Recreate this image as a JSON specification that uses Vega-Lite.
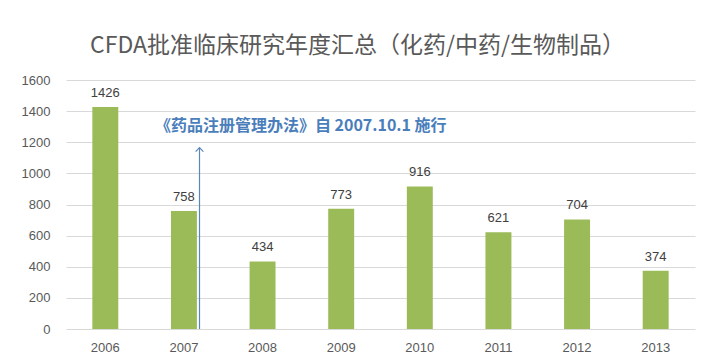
{
  "$schema": "https://vega.github.io/schema/vega-lite/v6.json",
  "width": 629,
  "height": 249,
  "autosize": "none",
  "padding": {"left": 66, "top": 80, "right": 14, "bottom": 29},
  "background": "white",
  "config": {
    "view": {"stroke": null},
    "font": "Noto Sans CJK SC",
    "axisY": {"format": "d", "labelOverlap": false, "ticks": false, "domain": false, "gridColor": "#d9d9d9", "labelFontSize": 13, "labelColor": "#595959", "labelPadding": 16, "labelFont": "Liberation Sans", "title": null},
    "axisX": {"title": null, "labelAngle": 0, "ticks": false, "domain": false, "labelFontSize": 13, "labelColor": "#595959", "labelPadding": 12, "labelFont": "Liberation Sans"}
  },
  "title": {
    "text": "CFDA批准临床研究年度汇总（化药/中药/生物制品）",
    "fontSize": 23,
    "fontWeight": "normal",
    "color": "#595959",
    "font": "Noto Sans CJK SC",
    "anchor": "middle",
    "offset": 16,
    "dx": -23
  },
  "datasets": {
    "bars": [
      {"year": "2006", "count": 1426},
      {"year": "2007", "count": 758},
      {"year": "2008", "count": 434},
      {"year": "2009", "count": 773},
      {"year": "2010", "count": 916},
      {"year": "2011", "count": 621},
      {"year": "2012", "count": 704},
      {"year": "2013", "count": 374}
    ],
    "arrow": [{"year": "2007", "y0": 0, "y1": 1165}],
    "note": [{"year": "2007", "y": 1305, "label": "《药品注册管理办法》自 2007.10.1 施行"}]
  },
  "layer": [
    {
      "data": {"name": "bars"},
      "mark": {"type": "bar", "color": "#9bbb59"},
      "encoding": {
        "x": {
          "field": "year", "type": "ordinal",
          "scale": {"paddingInner": 0.67, "paddingOuter": 0.335}
        },
        "y": {
          "field": "count", "type": "quantitative",
          "scale": {"domain": [0, 1600]},
          "axis": {"values": [0, 200, 400, 600, 800, 1000, 1200, 1400, 1600], "tickCount": 12}
        }
      }
    },
    {
      "data": {"name": "bars"},
      "mark": {"type": "text", "baseline": "bottom", "dy": -7, "fontSize": 13, "color": "#404040", "font": "Liberation Sans"},
      "encoding": {
        "x": {"field": "year", "type": "ordinal"},
        "y": {"field": "count", "type": "quantitative"},
        "text": {"field": "count", "type": "quantitative"}
      }
    },
    {
      "data": {"name": "arrow"},
      "mark": {"type": "rule", "color": "#5a86b8", "strokeWidth": 1.2},
      "encoding": {
        "x": {"field": "year", "type": "ordinal", "bandPosition": 1.1},
        "y": {"field": "y0", "type": "quantitative"},
        "y2": {"field": "y1"}
      }
    },
    {
      "data": {"name": "arrow"},
      "mark": {"type": "point", "shape": "M-1,1L0,0L1,1", "filled": false, "stroke": "#5a86b8", "strokeWidth": 1.2, "size": 60, "opacity": 1},
      "encoding": {
        "x": {"field": "year", "type": "ordinal", "bandPosition": 1.1},
        "y": {"field": "y1", "type": "quantitative"}
      }
    },
    {
      "data": {"name": "note"},
      "mark": {"type": "text", "align": "left", "baseline": "middle", "fontSize": 16, "fontWeight": "bold", "color": "#4a7ebb", "font": "Noto Sans CJK SC"},
      "encoding": {
        "x": {"field": "year", "type": "ordinal", "bandPosition": -0.62},
        "y": {"field": "y", "type": "quantitative"},
        "text": {"field": "label"}
      }
    }
  ]
}
